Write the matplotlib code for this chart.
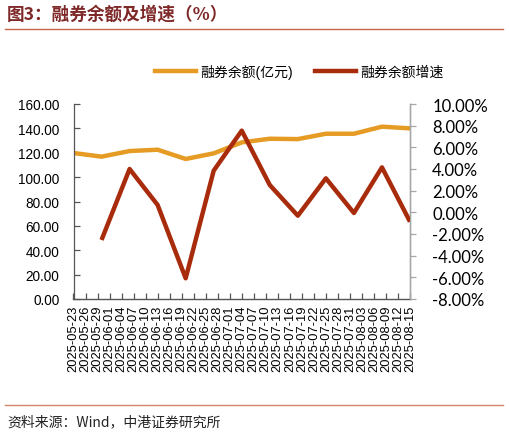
import matplotlib
matplotlib.use("Agg")
import matplotlib.pyplot as plt
import matplotlib.dates as mdates
from matplotlib.lines import Line2D
from matplotlib.ticker import FuncFormatter, MultipleLocator
import pandas as pd

plt.rcParams["font.family"] = ["Liberation Sans", "Noto Sans CJK SC", "DejaVu Sans"]

dates = ["2025-05-23", "2025-05-30", "2025-06-06", "2025-06-13", "2025-06-20",
         "2025-06-27", "2025-07-04", "2025-07-11", "2025-07-18", "2025-07-25",
         "2025-08-01", "2025-08-08", "2025-08-15"]
balance = [119.8, 116.8, 121.4, 122.5, 114.9, 119.5, 128.5, 131.5, 131.2,
           135.6, 135.6, 141.4, 140.0]
growth = [None, -2.55, 4.0, 0.68, -6.09, 3.85, 7.54, 2.52, -0.31, 3.14,
          -0.06, 4.15, -0.86]

orange = "#E69B24"
red = "#A82B0C"
title_red = "#7E2828"
rule_color = "#C9634A"

x = pd.to_datetime(dates)
growth_s = pd.Series(growth, index=x, dtype=float)

fig = plt.figure(figsize=(5.09, 4.35), dpi=100)
ax = fig.add_axes([73.5 / 509, 135 / 435, 336.5 / 509, 195 / 435])
ax2 = ax.twinx()

ax.plot(x, balance, color=orange, lw=3.2, solid_capstyle="butt", zorder=2)
ax2.plot(growth_s.index, growth_s.values, color=red, lw=3.2,
         solid_capstyle="butt", zorder=3)
ax2.set_zorder(ax.get_zorder() + 1)
ax2.patch.set_visible(False)

ax.set_xlim(x[0], x[-1])
ax.set_ylim(0, 160)
ax.yaxis.set_major_locator(MultipleLocator(20))
ax.yaxis.set_major_formatter(FuncFormatter(lambda v, p: f"{v:.2f}"))
ax2.set_ylim(-8, 10)
ax2.yaxis.set_major_locator(MultipleLocator(2))
ax2.yaxis.set_major_formatter(FuncFormatter(lambda v, p: f"{v:.2f}%"))

tick_dates = pd.date_range(x[0], x[-1], freq="3D")
ax.set_xticks(tick_dates)
ax.xaxis.set_major_formatter(mdates.DateFormatter("%Y-%m-%d"))
for lab in ax.get_xticklabels():
    lab.set_rotation(90)
    lab.set_fontsize(9.3)

ax.tick_params(axis="x", direction="in", length=4, width=0.9, color="#555555", pad=4)
ax.tick_params(axis="y", direction="in", length=4, width=0.9, color="#555555",
               labelsize=9.8, pad=10)
ax2.tick_params(axis="y", direction="out", length=4, width=0.9, color="#A6A6A6",
                labelsize=12, pad=12)
for lab in ax2.get_yticklabels():
    lab.set_fontfamily(["Lato", "DejaVu Sans"])

for a in (ax, ax2):
    a.spines["top"].set_visible(False)
ax.spines["left"].set_color("#555555")
ax.spines["bottom"].set_color("#555555")
ax.spines["left"].set_linewidth(0.9)
ax.spines["bottom"].set_linewidth(1.0)
ax2.spines["left"].set_visible(False)
ax2.spines["bottom"].set_visible(False)
ax2.spines["right"].set_color("#A6A6A6")
ax2.spines["right"].set_linewidth(1.0)

handles = [Line2D([], [], color=orange, lw=3.2), Line2D([], [], color=red, lw=3.2)]
fig.legend(handles, ["融券余额(亿元)", "融券余额增速"], loc="center",
           bbox_to_anchor=(299 / 509, 1 - 72 / 435), ncol=2, frameon=False,
           handlelength=3.0, handletextpad=0.25, columnspacing=1.6,
           prop={"family": ["Liberation Sans", "Noto Sans CJK SC"], "size": 10})

fig.text(7 / 509, 1 - 15 / 435, "图3：融券余额及增速（%）", color=title_red,
         fontsize=12.7, fontweight="bold", va="center", ha="left",
         family=["Noto Sans CJK SC", "DejaVu Sans"])
fig.add_artist(Line2D([5 / 509, 503 / 509], [1 - 30 / 435, 1 - 30 / 435],
                      color=rule_color, lw=1.0, transform=fig.transFigure))
fig.add_artist(Line2D([5 / 509, 503 / 509], [1 - 405.5 / 435, 1 - 405.5 / 435],
                      color="#D4846F", lw=1.0, transform=fig.transFigure))
fig.text(7 / 509, 1 - 422 / 435, "资料来源：Wind，中港证券研究所", fontsize=10,
         style="italic", va="center", ha="left", color="#222222",
         family=["Noto Sans CJK SC", "DejaVu Sans"])

fig.savefig("out.png", dpi=100)
